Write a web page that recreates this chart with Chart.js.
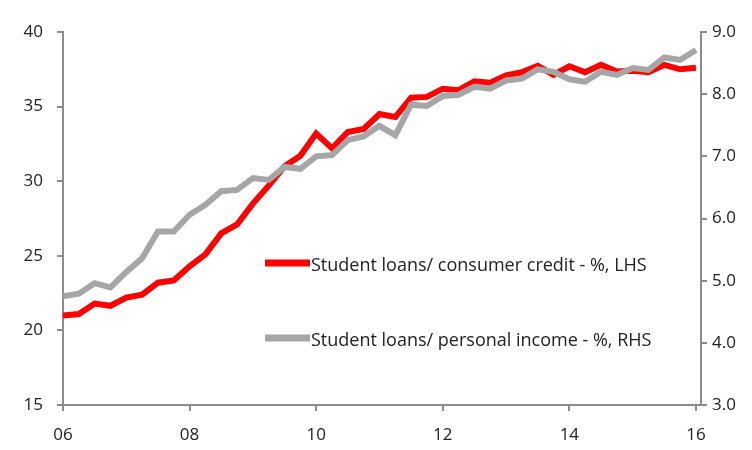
<!DOCTYPE html>
<html>
<head>
<meta charset="utf-8">
<script src="https://cdn.jsdelivr.net/npm/chart.js@4"></script>
<style>
  html, body { margin: 0; padding: 0; background: #fff; }
  #wrap { width: 752px; height: 450px; }
</style>
</head>
<body>
<div id="wrap"><canvas id="grafico"></canvas></div>
<script>
// quarterly, 2006Q1 .. 2016Q1
const startYear = 2006;
const consumerCredit = [
  21.0, 21.1, 21.8, 21.65, 22.2, 22.4, 23.2, 23.35,
  24.3, 25.1, 26.5, 27.1, 28.5, 29.7, 31.0, 31.7,
  33.2, 32.2, 33.3, 33.5, 34.5, 34.3, 35.6, 35.65,
  36.2, 36.1, 36.7, 36.6, 37.1, 37.3, 37.73, 37.13,
  37.7, 37.3, 37.8, 37.35, 37.4, 37.3, 37.8, 37.5, 37.6
];
const personalIncome = [
  4.75, 4.79, 4.96, 4.89, 5.14, 5.36, 5.79, 5.79,
  6.06, 6.22, 6.44, 6.46, 6.65, 6.62, 6.83, 6.8,
  7.0, 7.02, 7.26, 7.32, 7.49, 7.34, 7.83, 7.81,
  7.97, 7.99, 8.12, 8.09, 8.22, 8.25, 8.4, 8.36,
  8.24, 8.2, 8.36, 8.31, 8.42, 8.39, 8.59, 8.55, 8.71
];
const seriesNames = [
  'Student loans/ consumer credit - %, LHS',
  'Student loans/ personal income - %, RHS'
];
const xTicks = [2006, 2008, 2010, 2012, 2014, 2016];

const fuente = "'Open Sans', sans-serif";
const gris = '#8c8c8c';

function puntos(arr) {
  return arr.map((v, i) => ({ x: startYear + i * 0.25, y: v }));
}

// legend drawn inside the plot area
const leyenda = {
  id: 'leyenda',
  afterDraw(chart) {
    const c = chart.ctx;
    const filas = [263, 338];
    c.save();
    chart.data.datasets.forEach((ds, i) => {
      const y = filas[i];
      c.strokeStyle = ds.borderColor;
      c.lineWidth = 7;
      c.beginPath();
      c.moveTo(265, y);
      c.lineTo(310, y);
      c.stroke();
      c.fillStyle = '#222';
      c.font = '18px ' + fuente;
      c.textBaseline = 'middle';
      c.fillText(ds.label, 311, y + 3);
    });
    c.restore();
  }
};

new Chart(document.getElementById('grafico'), {
  type: 'line',
  data: {
    datasets: [{
      label: seriesNames[0],
      data: puntos(consumerCredit),
      borderColor: '#ff0000',
      borderWidth: 6,
      pointRadius: 0,
      yAxisID: 'y',
      order: 2
    }, {
      label: seriesNames[1],
      data: puntos(personalIncome),
      borderColor: '#a6a6a6',
      borderWidth: 6,
      pointRadius: 0,
      yAxisID: 'y2',
      order: 1
    }]
  },
  options: {
    responsive: true,
    maintainAspectRatio: false,
    animation: false,
    layout: { padding: { top: 32 } },
    plugins: { legend: { display: false }, tooltip: { enabled: false } },
    scales: {
      x: {
        type: 'linear',
        min: 2006,
        max: 2016.08,
        afterBuildTicks: s => { s.ticks = xTicks.map(v => ({ value: v })); },
        afterFit: s => { s.height = 45; },
        grid: { drawOnChartArea: false, color: gris, lineWidth: 2, tickLength: 6 },
        border: { color: gris, width: 2 },
        ticks: {
          padding: 14,
          color: '#222',
          font: { family: fuente, size: 17 },
          callback: v => String(v % 100).padStart(2, '0')
        }
      },
      y: {
        position: 'left',
        min: 15,
        max: 40,
        afterFit: s => { s.width = 63; },
        grid: { drawOnChartArea: false, color: gris, lineWidth: 2, tickLength: 6 },
        border: { color: gris, width: 2 },
        ticks: { stepSize: 5, padding: 14, color: '#222', font: { family: fuente, size: 17 } }
      },
      y2: {
        position: 'right',
        min: 3,
        max: 9,
        afterFit: s => { s.width = 51; },
        grid: { drawOnChartArea: false, color: gris, lineWidth: 2, tickLength: 6 },
        border: { color: gris, width: 2 },
        ticks: {
          stepSize: 1, padding: 5, color: '#222',
          font: { family: fuente, size: 17 },
          callback: v => v.toFixed(1)
        }
      }
    }
  },
  plugins: [leyenda]
});
</script>
</body>
</html>
